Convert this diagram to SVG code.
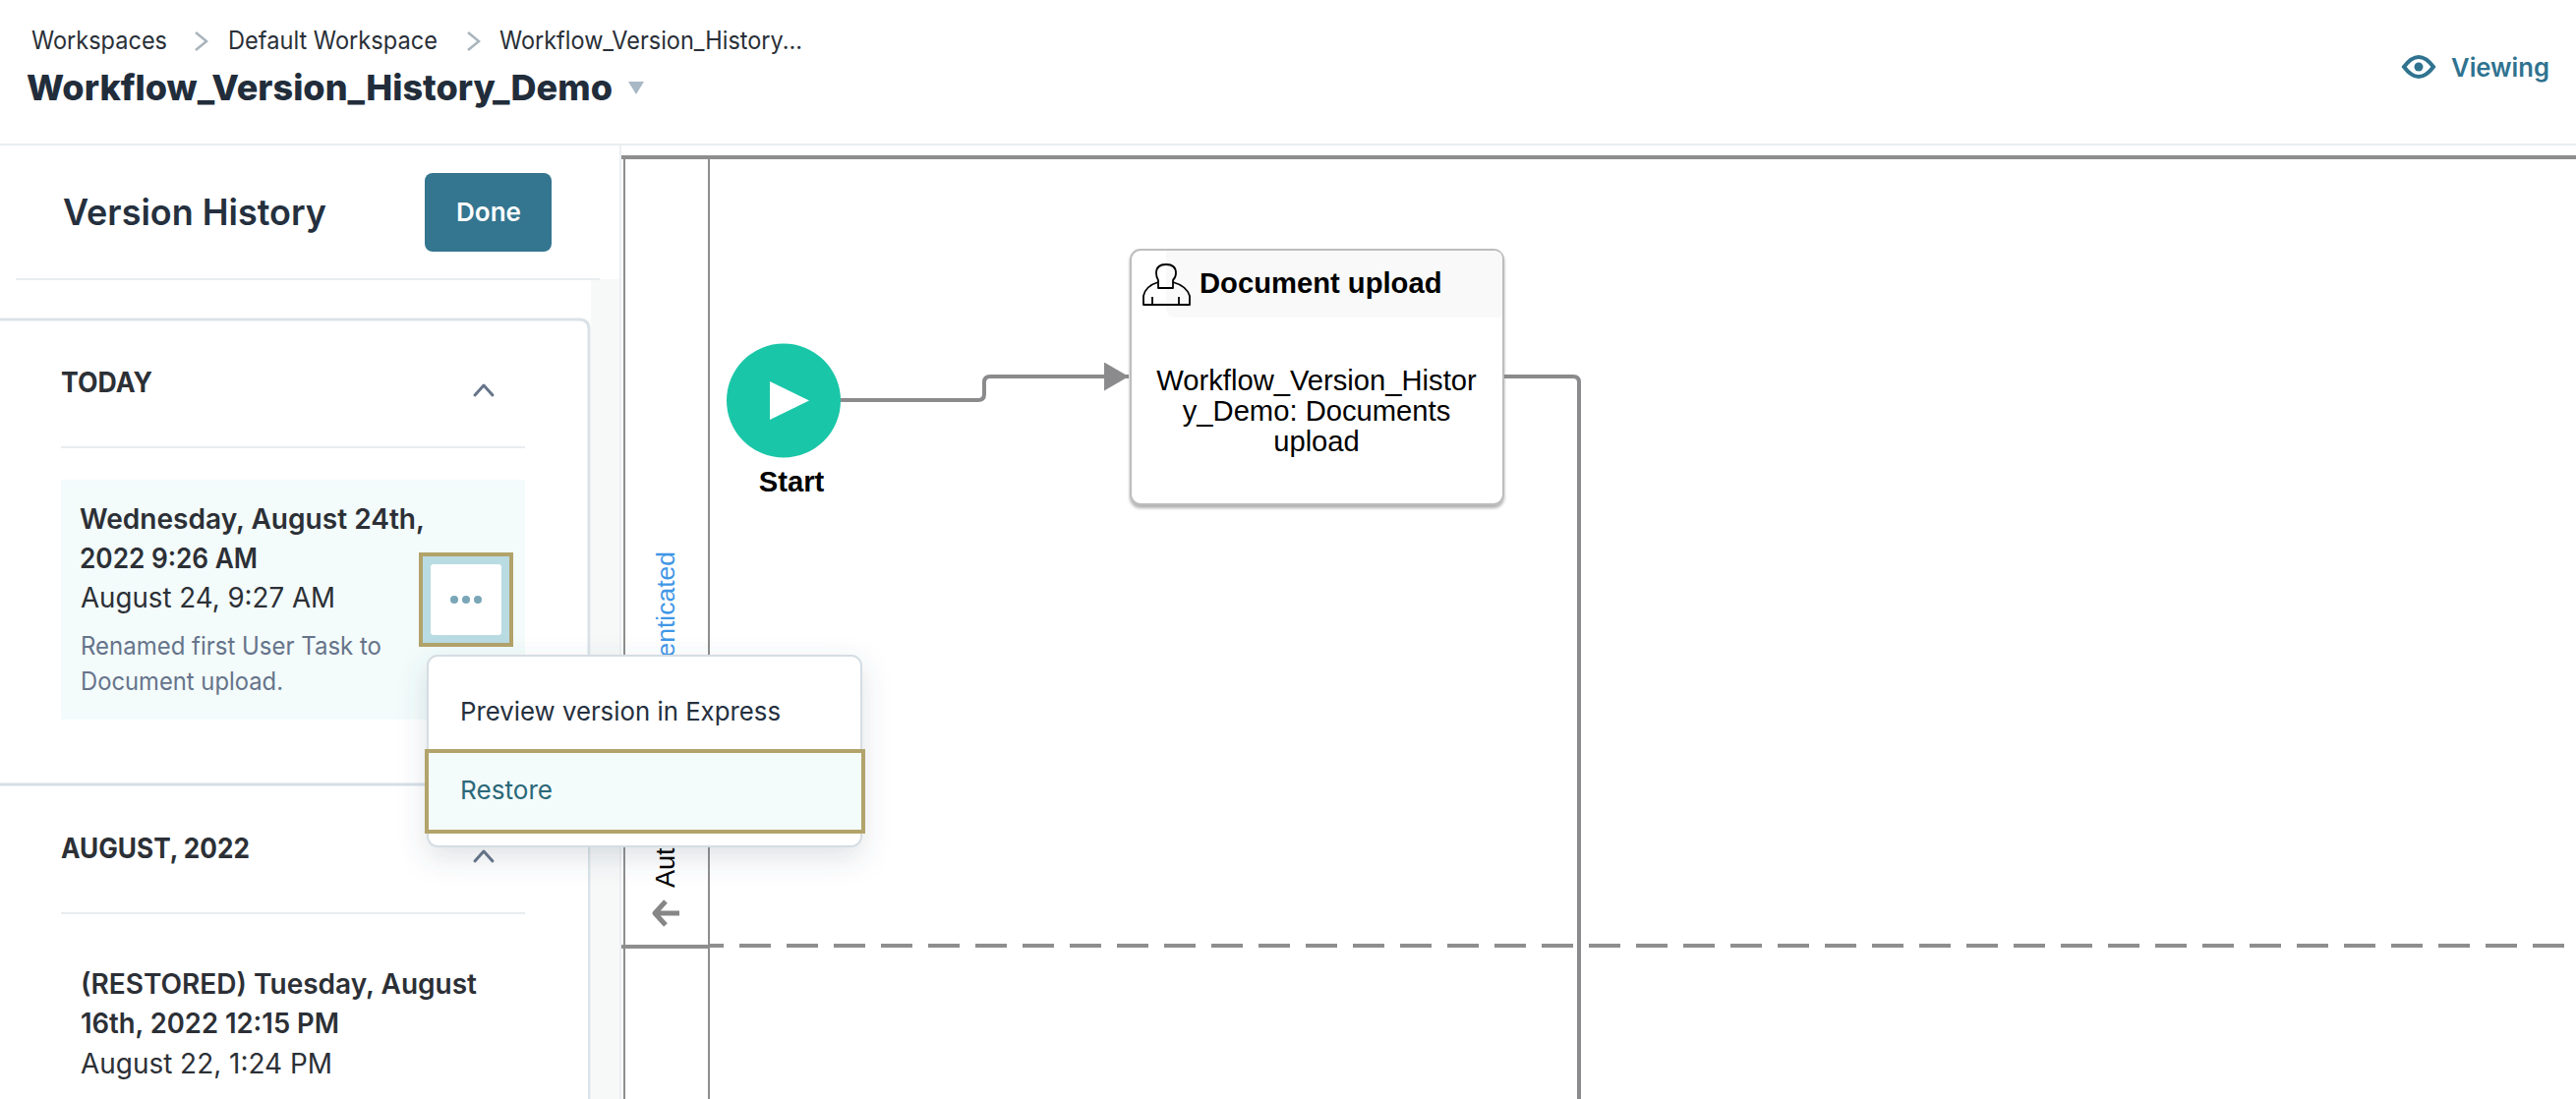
<svg xmlns="http://www.w3.org/2000/svg" width="2620" height="1118" viewBox="0 0 2620 1118">
<style>
.ui{font-family:"Inter","Liberation Sans",sans-serif}
.bpm{font-family:"Liberation Sans",Arial,sans-serif;font-size:29.200px}
.crumb{font-size:25px;fill:#2a3038}
.sem{font-weight:600;fill:#2c3036;font-size:28px}
.reg{fill:#2c3036;font-size:28px}
.note{fill:#66748a;font-size:25px}
.head{font-weight:700;fill:#2c3036;font-size:28px}
.lane{stroke:#8e8e8e;stroke-width:2;fill:none}
.laneb{stroke:#8e8e8e;stroke-width:4;fill:none}
.conn{stroke:#8b8b8d;stroke-width:4;fill:none}
.chev{stroke:#66748a;stroke-width:3;fill:none;stroke-linecap:round;stroke-linejoin:round}
.sep{stroke:#e9edef;stroke-width:2}
.gold{stroke:#b2a36a;stroke-width:4}
</style>
<defs>
<filter id="menuShadow" x="-15%" y="-20%" width="130%" height="150%"><feDropShadow dx="0" dy="10" stdDeviation="14" flood-color="#4a5a6a" flood-opacity="0.18"/></filter>
<filter id="taskShadow" x="-5%" y="-5%" width="110%" height="110%"><feDropShadow dx="0" dy="3" stdDeviation="1.5" flood-color="#666" flood-opacity="0.5"/></filter>
<marker id="arrow" markerUnits="userSpaceOnUse" markerWidth="26" markerHeight="30" refX="25" refY="14.500" orient="auto"><path d="M0 0L25 14.500L0 29Z" fill="#8b8b8d"/></marker>
</defs>
<rect width="2620" height="1118" fill="#fff"/>

<g id="canvas-strip">
<rect x="601" y="284" width="31" height="834" fill="#f7f8f8"/>
<line x1="631" y1="147" x2="631" y2="1118" stroke="#eceff1" stroke-width="2"/>
</g>

<g id="swimlane">
<line class="laneb" x1="632" y1="160" x2="2620" y2="160"/>
<line class="lane" x1="635" y1="160" x2="635" y2="1118"/>
<line class="lane" x1="721" y1="160" x2="721" y2="1118"/>
<line class="laneb" x1="632" y1="963" x2="721" y2="963"/>
<line class="laneb" x1="720" y1="962" x2="736" y2="962"/>
<line class="laneb" x1="752" y1="962" x2="2610" y2="962" stroke-dasharray="32 16"/>
<text class="bpm" transform="translate(686 903) rotate(-90)" style="font-size:27px" fill="#000">Auth</text>
<text class="bpm" transform="translate(686 561) rotate(-90)" text-anchor="end" style="font-size:26.500px" fill="#3f97e6">enticated</text>
<path d="M691 929H667M677 917L666 929L677 941" fill="none" stroke="#868686" stroke-width="5" stroke-linejoin="round"/>
</g>

<g id="connectors">
<path class="conn" marker-end="url(#arrow)" d="M855 407H995Q1001 407 1001 401V389Q1001 383 1007 383H1148"/>
<path class="conn" d="M1530 383H1600Q1606 383 1606 389V1118"/>
</g>

<g id="start">
<circle cx="797" cy="407.500" r="58" fill="#1ac6a8"/>
<path d="M783 388L823 407.500L783 427Z" fill="#fff"/>
<text class="bpm" x="805" y="500" text-anchor="middle" font-weight="700">Start</text>
</g>

<g id="document-upload">
<rect x="1150" y="254" width="379" height="259" rx="10" fill="#fff" stroke="#bdbdbd" stroke-width="2" filter="url(#taskShadow)"/>
<path d="M1186 255H1519Q1528 255 1528 264V323H1196Q1186 323 1186 313Z" fill="#f9f9f9"/>
<path d="M1178 287Q1165 291 1163 301V310H1210V301Q1207 291 1193 287M1172 302V310M1199 302V310" fill="none" stroke="#000" stroke-width="1.800" stroke-linejoin="round"/>
<path d="M1178 293V285Q1176 282 1176 278Q1176 269 1186 269Q1196 269 1196 278Q1196 282 1193 285V293Z" fill="none" stroke="#000" stroke-width="1.800" stroke-linejoin="round"/>
<text class="bpm" x="1220" y="298" font-weight="700">Document upload</text>
<text class="bpm" x="1339" y="397" text-anchor="middle">Workflow_Version_Histor</text>
<text class="bpm" x="1339" y="428" text-anchor="middle">y_Demo: Documents</text>
<text class="bpm" x="1339" y="459" text-anchor="middle">upload</text>
</g>

<g id="header">
<line class="sep" x1="0" y1="147" x2="2620" y2="147"/>
<text class="ui crumb" x="32" y="50" textLength="138" lengthAdjust="spacingAndGlyphs">Workspaces</text>
<path d="M199 33L210 42L199 51" fill="none" stroke="#a9b4bc" stroke-width="2.500"/>
<text class="ui crumb" x="232" y="50" textLength="213" lengthAdjust="spacingAndGlyphs">Default Workspace</text>
<path d="M476 33L487 42L476 51" fill="none" stroke="#a9b4bc" stroke-width="2.500"/>
<text class="ui crumb" x="508" y="50" textLength="308" lengthAdjust="spacingAndGlyphs">Workflow_Version_History...</text>
<text class="ui" x="27" y="102" font-size="36" font-weight="800" fill="#222d3b" textLength="596" lengthAdjust="spacingAndGlyphs">Workflow_Version_History_Demo</text>
<path d="M639 83H655L647 96Z" fill="#a9b8c5"/>
<g id="viewing">
<path d="M2445 68Q2460 48 2475 68Q2460 88 2445 68Z" fill="none" stroke="#2f7390" stroke-width="4"/>
<circle cx="2460" cy="68" r="4.500" fill="#2f7390"/>
<text class="ui" x="2493" y="78" font-size="26" font-weight="600" fill="#2f7390" textLength="100" lengthAdjust="spacingAndGlyphs">Viewing</text>
</g>
</g>

<g id="version-history">
<line class="sep" x1="16" y1="284" x2="610" y2="284"/>
<text class="ui" x="64" y="229" font-size="37" font-weight="600" fill="#25303e" textLength="268" lengthAdjust="spacingAndGlyphs">Version History</text>
<g id="done">
<rect x="432" y="176" width="129" height="80" rx="8" fill="#347590"/>
<text class="ui" x="497" y="225" text-anchor="middle" font-size="26" font-weight="600" fill="#fff" textLength="66" lengthAdjust="spacingAndGlyphs">Done</text>
</g>
</g>

<g id="today-card">
<path d="M0 325H589Q599 325 599 335V1118" fill="#fff" stroke="#dbe3e8" stroke-width="3"/>
<text class="ui head" x="62" y="399" textLength="93" lengthAdjust="spacingAndGlyphs">TODAY</text>
<path class="chev" d="M483 402L492 392L501 402"/>
<line class="sep" x1="62" y1="455" x2="534" y2="455"/>
<rect x="62" y="488" width="472" height="244" fill="#f3fbfb"/>
<text class="ui sem" x="81" y="538" textLength="351" lengthAdjust="spacingAndGlyphs">Wednesday, August 24th,</text>
<text class="ui sem" x="81" y="578" textLength="181" lengthAdjust="spacingAndGlyphs">2022 9:26 AM</text>
<text class="ui reg" x="82" y="618" textLength="259" lengthAdjust="spacingAndGlyphs">August 24, 9:27 AM</text>
<text class="ui note" x="82" y="666" textLength="306" lengthAdjust="spacingAndGlyphs">Renamed first User Task to</text>
<text class="ui note" x="82" y="702" textLength="206" lengthAdjust="spacingAndGlyphs">Document upload.</text>
</g>

<g id="more-button">
<rect class="gold" x="428" y="564" width="92" height="92" fill="#b9dbe2"/>
<rect x="438" y="574" width="72" height="72" rx="3" fill="#fff"/>
<circle cx="462" cy="610" r="4" fill="#7aa6b8"/><circle cx="474" cy="610" r="4" fill="#7aa6b8"/><circle cx="486" cy="610" r="4" fill="#7aa6b8"/>
</g>

<g id="august-card">
<rect x="0" y="800" width="598" height="318" fill="#fff"/>
<line x1="0" y1="798" x2="598" y2="798" stroke="#d5dfe6" stroke-width="3"/>
<text class="ui head" x="62" y="873" textLength="192" lengthAdjust="spacingAndGlyphs">AUGUST, 2022</text>
<path class="chev" d="M483 876L492 866L501 876"/>
<line class="sep" x1="62" y1="929" x2="534" y2="929"/>
<text class="ui sem" x="82" y="1011" textLength="403" lengthAdjust="spacingAndGlyphs">(RESTORED) Tuesday, August</text>
<text class="ui sem" x="82" y="1051" textLength="263" lengthAdjust="spacingAndGlyphs">16th, 2022 12:15 PM</text>
<text class="ui reg" x="82" y="1092" textLength="256" lengthAdjust="spacingAndGlyphs">August 22, 1:24 PM</text>
</g>

<g id="context-menu">
<rect x="435" y="667" width="441" height="194" rx="10" fill="#fff" stroke="#d5dde3" stroke-width="2" filter="url(#menuShadow)"/>
<text class="ui" x="468" y="733" font-size="26" fill="#25303e" textLength="326" lengthAdjust="spacingAndGlyphs">Preview version in Express</text>
<rect class="gold" x="434" y="764" width="444" height="82" fill="#f3fbfb"/>
<text class="ui" x="468" y="813" font-size="26" fill="#2b6878" textLength="94" lengthAdjust="spacingAndGlyphs">Restore</text>
</g>
</svg>
